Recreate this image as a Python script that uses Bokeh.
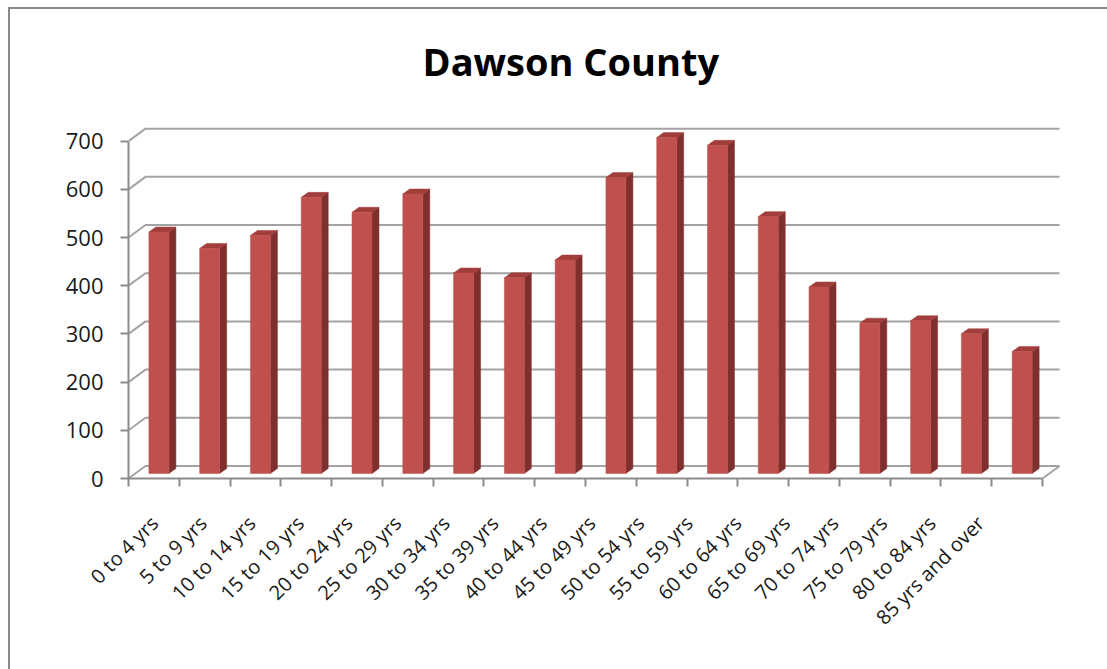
import math
from bokeh.plotting import figure
from bokeh.layouts import column
from bokeh.models import Range1d, FixedTicker
from bokeh.embed import file_html
from bokeh.resources import INLINE

# ---------------- data ----------------
categories = ["0 to 4 yrs", "5 to 9 yrs", "10 to 14 yrs", "15 to 19 yrs",
              "20 to 24 yrs", "25 to 29 yrs", "30 to 34 yrs", "35 to 39 yrs",
              "40 to 44 yrs", "45 to 49 yrs", "50 to 54 yrs", "55 to 59 yrs",
              "60 to 64 yrs", "65 to 69 yrs", "70 to 74 yrs", "75 to 79 yrs",
              "80 to 84 yrs", "85 yrs and over"]
population = [501, 467, 494, 573, 542, 580, 416, 406, 443, 614,
              697, 681, 533, 387, 312, 317, 290, 253]
y_ticks = [0, 100, 200, 300, 400, 500, 600, 700]
title_text = "Dawson County"

# ---------------- layout (pixels) ----------------
W, H = 1099, 662
ML, MR, MT, MB = 120, 39, 100, 191
PX_CAT = 50.78      # pixels per category
PX_UNIT = 0.4819    # pixels per value unit
LABEL_STEP = 48.6   # label spacing used by the original (slightly tighter)

frame_w = W - ML - MR
frame_h = H - MT - MB
n = len(categories)

# 3D pseudo-depth offsets converted into data units
back_dx, back_dy = 17 / PX_CAT, 12.5 / PX_UNIT
bar_shift, bar_base = 5 / PX_CAT, 5 / PX_UNIT
bar_half = 10 / PX_CAT
side_dx, side_dy = 7 / PX_CAT, 5 / PX_UNIT

GRID = "#a3a3a3"
AXIS = "#8c8c8c"
FRONT = "#c0504d"
SIDE = "#7f302e"
TOP = "#a13e3b"

p = figure(width=W, height=H,
           x_range=Range1d(0, frame_w / PX_CAT),
           y_range=Range1d(0, frame_h / PX_UNIT),
           output_backend="svg", toolbar_location=None,
           min_border_left=ML, min_border_right=MR,
           min_border_top=MT, min_border_bottom=MB)

p.title.text = title_text
p.title.align = "left"
p.title.offset = 294
p.title.standoff = 42
p.title.text_font = "Open Sans"
p.title.text_font_style = "bold"
p.title.text_font_size = "38px"
p.title.text_color = "#000000"

p.grid.visible = False
p.outline_line_color = None
p.background_fill_color = "white"
p.border_fill_color = None

# back wall grid lines with side-wall diagonals
gx = [[0, back_dx, n + back_dx] for v in y_ticks]
gy = [[v, v + back_dy, v + back_dy] for v in y_ticks]
p.multi_line(gx, gy, line_color=GRID, line_width=2)
# floor right-hand diagonal
p.line([n, n + back_dx], [0, back_dy], line_color=GRID, line_width=2)

# bars
centers = [i + 0.5 for i in range(n)]
lefts = [c + bar_shift - bar_half for c in centers]
rights = [c + bar_shift + bar_half for c in centers]
tops = [bar_base + v for v in population]

side_xs = [[r, r + side_dx, r + side_dx, r] for r in rights]
side_ys = [[bar_base, bar_base + side_dy, t + side_dy, t] for t in tops]
top_xs = [[l, l + side_dx, r + side_dx, r] for l, r in zip(lefts, rights)]
top_ys = [[t, t + side_dy, t + side_dy, t] for t in tops]

p.patches(side_xs, side_ys, fill_color=SIDE, line_color=SIDE, line_width=0.5)
p.patches(top_xs, top_ys, fill_color=TOP, line_color=TOP, line_width=0.5)
p.quad(left=lefts, right=rights, bottom=bar_base, top=tops,
       fill_color=FRONT, line_color=FRONT, line_width=0.5)

# y axis
ya = p.yaxis[0]
ya.ticker = FixedTicker(ticks=y_ticks)
ya.bounds = (0, max(y_ticks))
ya.axis_line_color = AXIS
ya.axis_line_width = 2
ya.major_tick_line_color = AXIS
ya.major_tick_line_width = 2
ya.major_tick_out = 8
ya.major_tick_in = 0
ya.minor_tick_line_color = None
ya.major_label_standoff = 17
ya.major_label_text_font = "Open Sans"
ya.major_label_text_font_size = "22px"
ya.major_label_text_color = "#1a1a1a"

# x axis: labels (invisible major ticks) near category centres,
# visible minor tick marks at category boundaries
label_pos = [round(0.51 + i * LABEL_STEP / PX_CAT, 4) for i in range(n)]
xa = p.xaxis[0]
xa.ticker = FixedTicker(ticks=label_pos, minor_ticks=list(range(n + 1)))
xa.bounds = (0, n)
xa.major_label_overrides = {x: lab for x, lab in zip(label_pos, categories)}
xa.major_label_orientation = math.pi / 4
xa.axis_line_color = AXIS
xa.axis_line_width = 2
xa.major_tick_line_color = None
xa.major_tick_out = 0
xa.major_tick_in = 0
xa.minor_tick_line_color = AXIS
xa.minor_tick_line_width = 2
xa.minor_tick_out = 8
xa.minor_tick_in = 0
xa.major_label_standoff = 33
xa.major_label_text_font = "Open Sans"
xa.major_label_text_font_size = "20px"
xa.major_label_text_color = "#1a1a1a"

# chart-area border: only its left and top edges fall inside the picture
layout = column(p, styles={"margin-left": "8px", "margin-top": "7px",
                           "box-shadow": "inset 2px 2px 0 0 #8a8a8a"})

open("out.html", "w").write(file_html(layout, INLINE))
